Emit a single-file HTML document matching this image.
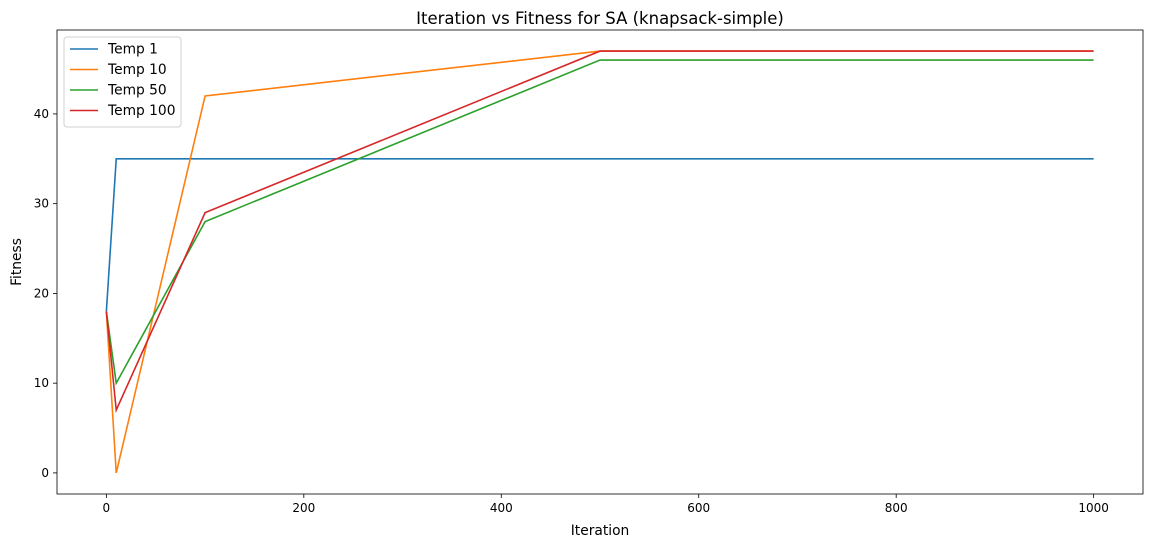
<!DOCTYPE html>
<html><head><meta charset="utf-8"><style>
body{margin:0;background:#fff;font-family:"Liberation Sans","DejaVu Sans",sans-serif;}
svg text{font-family:"DejaVu Sans","Liberation Sans",sans-serif;fill:#000;}
</style></head><body>
<svg id="chart" width="1151" height="547" xmlns="http://www.w3.org/2000/svg"></svg>
<script>
const iterations=[0,10,100,500,1000];
const seriesNames=["Temp 1","Temp 10","Temp 50","Temp 100"];
const temp1=[18,35,35,35,35];
const temp10=[18,0,42,47,47];
const temp50=[18,10,28,46,46];
const temp100=[18,7,29,47,47];
const xTicks=[0,200,400,600,800,1000];
const yTicks=[0,10,20,30,40];
const colors=["#1f77b4","#ff7f0e","#2ca02c","#d62728"];
const allSeries=[temp1,temp10,temp50,temp100];
const L=57,R=1143,T=30,B=494;
const x0v=-50,x1v=1050;
const ymin=-2.35,ymax=49.35;
const sx=v=>L+(v-x0v)/(x1v-x0v)*(R-L);
const sy=v=>B-(v-ymin)/(ymax-ymin)*(B-T);
const svg=document.getElementById('chart');
const NS="http://www.w3.org/2000/svg";
function mk(tag,attrs,parent){const e=document.createElementNS(NS,tag);for(const k in attrs)e.setAttribute(k,attrs[k]);(parent||svg).appendChild(e);return e;}
let t=mk('text',{x:(L+R)/2,y:24,'text-anchor':'middle','font-size':16.5});t.textContent="Iteration vs Fitness for SA (knapsack-simple)";


xTicks.forEach(v=>{const x=sx(v);
 const l=mk('line',{x1:x,x2:x,y1:B,y2:B+4,stroke:'#000','stroke-width':0.8});
 
 
 const tx=mk('text',{x:x,y:B+18,'text-anchor':'middle','font-size':12});tx.textContent=v;
 
 });
yTicks.forEach(v=>{const y=sy(v);
 const l=mk('line',{x1:L-4,x2:L,y1:y,y2:y,stroke:'#000','stroke-width':0.8});
 
 
 const tx=mk('text',{x:L-8,y:y+4,'text-anchor':'end','font-size':12});tx.textContent=v;
 
 });
t=mk('text',{x:(L+R)/2,y:535,'text-anchor':'middle','font-size':13.8});t.textContent="Iteration";


t=mk('text',{x:21,y:(T+B)/2,'text-anchor':'middle','font-size':13.8,transform:`rotate(-90 21 ${(T+B)/2})`});t.textContent="Fitness";


allSeries.forEach((s,i)=>{
 const p=mk('polyline',{points:s.map((v,j)=>sx(iterations[j])+','+sy(v)).join(' '),fill:'none',stroke:colors[i],'stroke-width':1.6});
 
 
});
const frame=mk('rect',{x:L,y:T,width:R-L,height:B-T,fill:'none',stroke:'#000','stroke-width':0.8});


const g=mk('g',{});


mk('rect',{x:64,y:37,width:117,height:90,rx:3,fill:'#fff',stroke:'#ccc','stroke-width':1,opacity:0.9},g);
seriesNames.forEach((n,i)=>{const y=49+i*20.5;
 const e=mk('g',{},g);
 
 
 mk('line',{x1:70,x2:98,y1:y,y2:y,stroke:colors[i],'stroke-width':1.6},e);
 const tx=mk('text',{x:108,y:y+4.5,'font-size':13.8},e);tx.textContent=n;});
</script>
</body></html>
